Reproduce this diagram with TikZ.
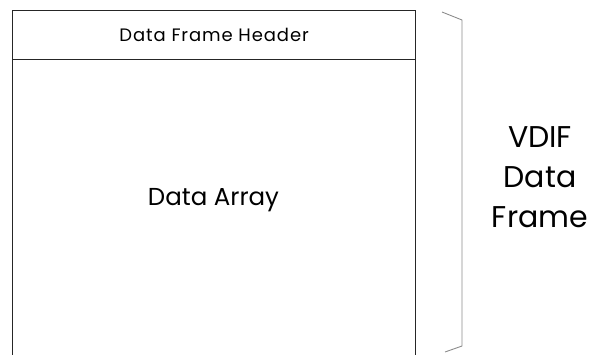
\documentclass[tikz,border=0pt]{standalone}
\usepackage{fontspec}
\setmainfont{Poppins}
\begin{document}
\begin{tikzpicture}[x=1pt,y=-1pt,line join=miter,
  part/.style={draw=black!85,line width=1.3pt,inner sep=0pt,minimum width=403pt,anchor=north west}]
 \useasboundingbox (0,0) rectangle (591,354);
 % the frame: header on top, array below
 \node[part,minimum height=49pt] (header) at (12,10) {\fontsize{18}{20}\selectfont\addfontfeature{LetterSpace=5}Data Frame Header};
 \node[part,minimum height=296pt] (array) at (12,59) {};
 \node[anchor=base,font=\fontsize{24.5}{28}\selectfont] (arraytext) at (213.5,205) {Data Array};
 % bracket over the whole frame
 \coordinate (top) at (442,12);
 \coordinate (bot) at (445,352);
 \draw[black!45,line width=0.9pt] (top) -- (462,20) -- (462,346) -- (bot);
 \node[align=center,font=\fontsize{30}{40}\selectfont] (name) at (540,177) {VDIF\\Data\\Frame};
\end{tikzpicture}
\end{document}
